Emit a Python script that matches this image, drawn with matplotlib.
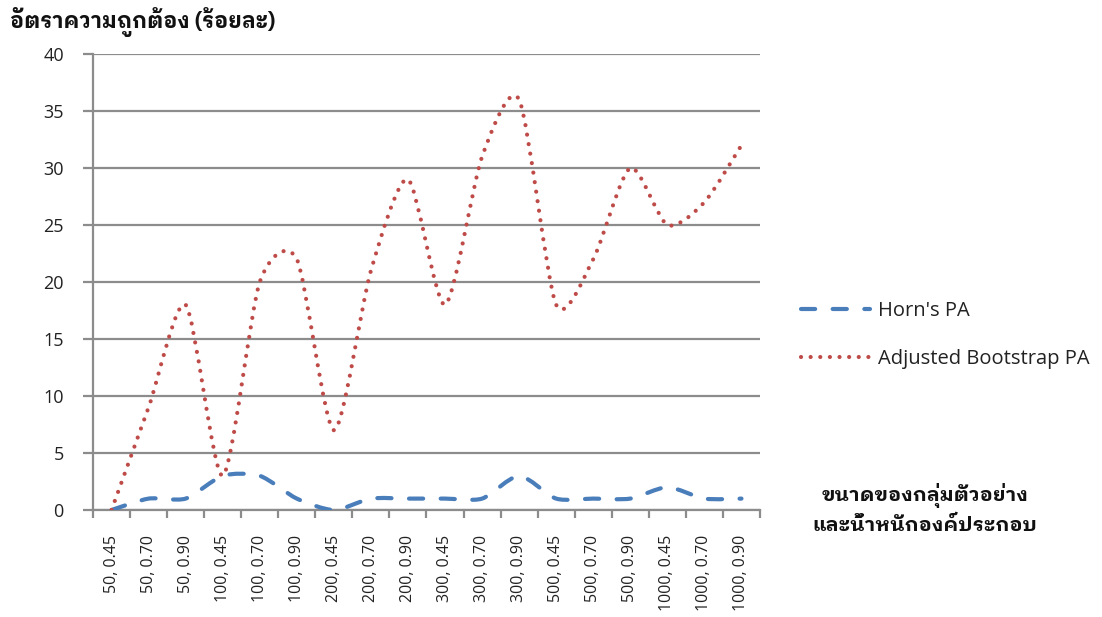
import matplotlib
matplotlib.use('Agg')
import numpy as np
import matplotlib.pyplot as plt
from matplotlib.path import Path
from matplotlib.patches import PathPatch
from matplotlib.lines import Line2D

plt.rcParams['font.family'] = ['Open Sans', 'IBM Plex Sans Thai Looped', 'Noto Sans Thai Looped']

categories = ['50, 0.45', '50, 0.70', '50, 0.90',
              '100, 0.45', '100, 0.70', '100, 0.90',
              '200, 0.45', '200, 0.70', '200, 0.90',
              '300, 0.45', '300, 0.70', '300, 0.90',
              '500, 0.45', '500, 0.70', '500, 0.90',
              '1000, 0.45', '1000, 0.70', '1000, 0.90']
horn = [0, 1, 1, 3, 3, 1, 0, 1, 1, 1, 1, 3, 1, 1, 1, 2, 1, 1]
adjusted = [0, 9, 18, 3, 20, 22, 7, 21, 29, 18, 31, 36, 18, 22, 30, 25, 27, 32]
series_names = ["Horn's PA", 'Adjusted Bootstrap PA']

blue = '#4a7ebb'
red = '#be4b48'
grid_c = '#8c8c8c'
thai = ['IBM Plex Sans Thai Looped', 'Noto Sans Thai Looped', 'DejaVu Sans']


def smooth_path(xs, ys, k=8.0):
    # smoothed line like excel: cubic bezier through every point
    p = np.column_stack([xs, ys]).astype(float)
    n = len(p)
    verts = [p[0]]
    codes = [Path.MOVETO]
    for i in range(n - 1):
        p0 = p[max(i - 1, 0)]
        p1 = p[i]
        p2 = p[i + 1]
        p3 = p[min(i + 2, n - 1)]
        c1 = p1 + (p2 - p0) / k
        c2 = p2 - (p3 - p1) / k
        verts += [c1, c2, p2]
        codes += [Path.CURVE4] * 3
    return Path(verts, codes)


fig = plt.figure(figsize=(11.02, 6.17), dpi=100)
ax = fig.add_axes([93 / 1102, 1 - 510 / 617, (760 - 93) / 1102, (510 - 54) / 617])

x = np.arange(len(categories))
horn_ls = (0, (3.4, 4.2))
adj_ls = (0, (0.01, 2.3))
lw = 3.0

ax.add_patch(PathPatch(smooth_path(x, horn), fill=False, edgecolor=blue, lw=lw,
                       linestyle=horn_ls, capstyle='round', zorder=3))
ax.add_patch(PathPatch(smooth_path(x, adjusted), fill=False, edgecolor=red, lw=lw,
                       linestyle=adj_ls, capstyle='round', zorder=3))

ax.set_xlim(-0.5, len(categories) - 0.5)
ax.set_ylim(0, 40)
ax.set_yticks(np.arange(0, 41, 5))
ax.yaxis.grid(True, color=grid_c, lw=1.6)
ax.set_axisbelow(True)
for s in ['top', 'right']:
    ax.spines[s].set_visible(False)
for s in ['left', 'bottom']:
    ax.spines[s].set_color(grid_c)
    ax.spines[s].set_linewidth(1.6)

ax.set_xticks(np.arange(-0.5, len(categories), 1.0))
ax.set_xticklabels([])
ax.set_xticks(x, minor=True)
ax.set_xticklabels(categories, minor=True, rotation=90, fontsize=11.5, color='#222222')
ax.tick_params(axis='x', which='major', length=6, width=1.6, color=grid_c, direction='out')
ax.tick_params(axis='x', which='minor', length=0, pad=18)
ax.tick_params(axis='y', length=7, width=1.6, color=grid_c, direction='out',
               labelsize=13, labelcolor='#222222', pad=14)

handles = [Line2D([], [], color=blue, lw=lw, linestyle=horn_ls, dash_capstyle='round'),
           Line2D([], [], color=red, lw=lw, linestyle=adj_ls, dash_capstyle='round')]
fig.legend(handles, series_names, loc='center left', bbox_to_anchor=(783 / 1102, 1 - 335 / 617),
           frameon=False, fontsize=14.5, handlelength=3.4, handletextpad=0.4,
           labelspacing=1.35, labelcolor='#222222')

fig.text(10 / 1102, 1 - 22 / 617, 'อัตราความถูกต้อง (ร้อยละ)', fontsize=15.5, family=thai,
         fontweight='bold', va='center', ha='left', color='#111111')
fig.text(925 / 1102, 1 - 509 / 617, 'ขนาดของกลุ่มตัวอย่าง\nและน้ำหนักองค์ประกอบ', fontsize=14.5,
         family=thai, fontweight='bold', va='center', ha='center', color='#111111',
         linespacing=1.5)

fig.savefig('out.png', dpi=100)
